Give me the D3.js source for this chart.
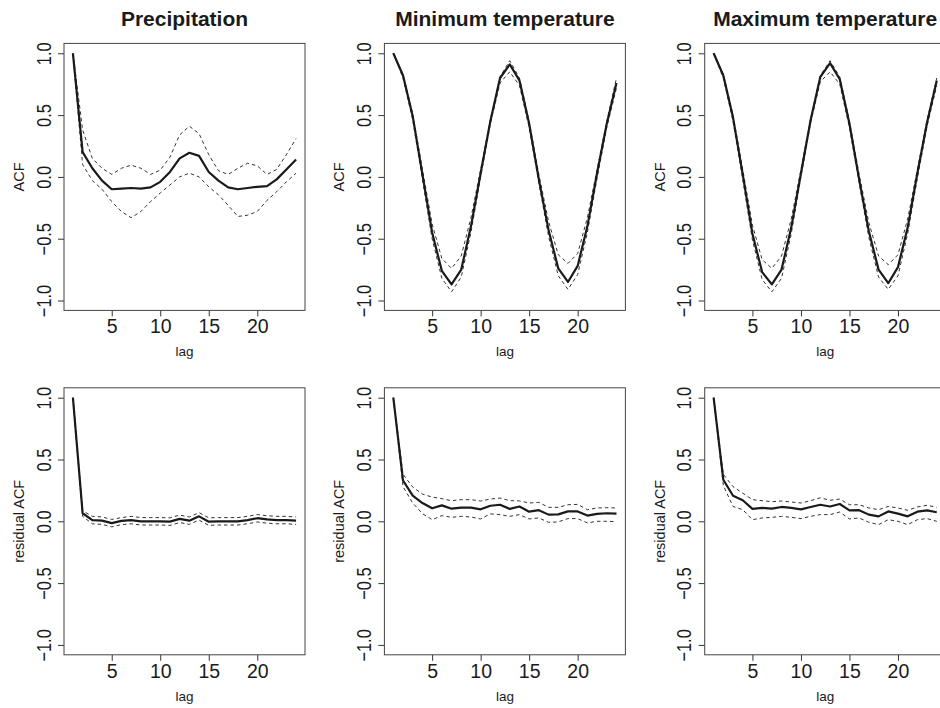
<!DOCTYPE html>
<html>
<head>
<meta charset="utf-8">
<script src="https://cdn.jsdelivr.net/npm/d3@7"></script>
<style>
  body { margin: 0; background: #fff; }
  svg { display: block; font-family: "Liberation Sans", Arial, Helvetica, sans-serif; }
</style>
</head>
<body>
<svg id="chart" width="940" height="708"></svg>
<script>
// ---------- data ----------
const lags = d3.range(1, 25);
const titles = ["Precipitation", "Minimum temperature", "Maximum temperature"];
const rowLabels = ["ACF", "residual ACF"];
const xTicks = [5, 10, 15, 20];
const yTicks = [-1.0, -0.5, 0.0, 0.5, 1.0];

// Top row: ACF
const precipAcf   = [1.00, 0.20, 0.07, -0.03, -0.10, -0.095, -0.09, -0.095, -0.085, -0.04, 0.04, 0.15, 0.195, 0.17, 0.04, -0.03, -0.085, -0.10, -0.09, -0.08, -0.075, -0.02, 0.06, 0.14];
const precipAcfHi = [1.00, 0.38, 0.15, 0.07, 0.02, 0.07, 0.095, 0.07, 0.02, 0.055, 0.16, 0.34, 0.41, 0.35, 0.18, 0.05, 0.02, 0.07, 0.11, 0.09, 0.02, 0.06, 0.18, 0.31];
const precipAcfLo = [1.00, 0.10, -0.03, -0.10, -0.20, -0.28, -0.33, -0.28, -0.20, -0.13, -0.065, 0.00, 0.03, 0.00, -0.08, -0.145, -0.23, -0.32, -0.31, -0.28, -0.19, -0.12, -0.04, 0.03];

const minAcf   = [1.00, 0.82, 0.49, 0.02, -0.45, -0.76, -0.87, -0.75, -0.40, 0.03, 0.45, 0.80, 0.91, 0.78, 0.43, -0.02, -0.43, -0.74, -0.85, -0.72, -0.40, 0.03, 0.43, 0.76];
const minAcfHi = [1.00, 0.83, 0.51, 0.06, -0.38, -0.66, -0.74, -0.64, -0.33, 0.06, 0.46, 0.81, 0.94, 0.80, 0.45, 0.02, -0.36, -0.63, -0.70, -0.62, -0.33, 0.06, 0.45, 0.80];
const minAcfLo = [1.00, 0.80, 0.46, -0.02, -0.50, -0.82, -0.93, -0.81, -0.45, 0.00, 0.43, 0.76, 0.85, 0.74, 0.40, -0.05, -0.48, -0.80, -0.91, -0.79, -0.45, -0.01, 0.40, 0.72];

const maxAcf   = [1.00, 0.82, 0.48, 0.02, -0.46, -0.77, -0.87, -0.75, -0.41, 0.03, 0.46, 0.81, 0.92, 0.79, 0.43, -0.02, -0.44, -0.75, -0.86, -0.73, -0.41, 0.03, 0.44, 0.78];
const maxAcfHi = [1.00, 0.83, 0.50, 0.06, -0.39, -0.67, -0.74, -0.64, -0.34, 0.06, 0.47, 0.82, 0.94, 0.81, 0.45, 0.02, -0.37, -0.64, -0.71, -0.63, -0.34, 0.06, 0.46, 0.80];
const maxAcfLo = [1.00, 0.80, 0.45, -0.02, -0.51, -0.83, -0.93, -0.82, -0.46, 0.00, 0.44, 0.77, 0.85, 0.75, 0.40, -0.05, -0.49, -0.81, -0.91, -0.80, -0.46, -0.01, 0.41, 0.74];

// Bottom row: residual ACF
const precipRes   = [1.00, 0.065, 0.01, 0.005, -0.015, 0.003, 0.01, 0.0, 0.0, 0.0, -0.003, 0.02, 0.005, 0.04, -0.003, 0.0, 0.0, 0.0, 0.01, 0.025, 0.015, 0.01, 0.01, 0.005];
const precipResHi = [1.00, 0.085, 0.04, 0.035, 0.015, 0.03, 0.04, 0.03, 0.03, 0.03, 0.028, 0.05, 0.035, 0.07, 0.028, 0.03, 0.03, 0.03, 0.04, 0.055, 0.045, 0.04, 0.04, 0.035];
const precipResLo = [1.00, 0.04, -0.02, -0.025, -0.045, -0.027, -0.02, -0.03, -0.03, -0.03, -0.033, -0.01, -0.025, 0.01, -0.033, -0.03, -0.03, -0.03, -0.02, -0.005, -0.015, -0.02, -0.02, -0.025];

const minRes   = [1.00, 0.33, 0.207, 0.148, 0.105, 0.129, 0.102, 0.11, 0.11, 0.097, 0.126, 0.134, 0.10, 0.12, 0.078, 0.09, 0.054, 0.056, 0.08, 0.08, 0.046, 0.06, 0.065, 0.062];
const minResHi = [1.00, 0.38, 0.277, 0.22, 0.196, 0.183, 0.167, 0.175, 0.175, 0.164, 0.18, 0.188, 0.167, 0.165, 0.148, 0.153, 0.113, 0.113, 0.134, 0.137, 0.094, 0.108, 0.11, 0.108];
const minResLo = [1.00, 0.28, 0.148, 0.062, 0.013, 0.046, 0.032, 0.04, 0.035, 0.019, 0.06, 0.054, 0.04, 0.054, 0.019, 0.027, -0.008, -0.005, 0.022, 0.022, -0.013, 0.0, 0.0, -0.003];

const maxRes   = [1.00, 0.336, 0.207, 0.17, 0.10, 0.108, 0.102, 0.116, 0.108, 0.097, 0.116, 0.134, 0.12, 0.14, 0.089, 0.09, 0.054, 0.04, 0.08, 0.062, 0.04, 0.078, 0.089, 0.073];
const maxResHi = [1.00, 0.38, 0.28, 0.228, 0.175, 0.167, 0.159, 0.164, 0.156, 0.148, 0.167, 0.19, 0.17, 0.18, 0.134, 0.134, 0.108, 0.094, 0.12, 0.108, 0.089, 0.116, 0.13, 0.113];
const maxResLo = [1.00, 0.29, 0.12, 0.094, 0.013, 0.027, 0.032, 0.04, 0.032, 0.022, 0.04, 0.054, 0.054, 0.075, 0.019, 0.027, -0.008, -0.027, 0.013, 0.0, -0.027, 0.013, 0.022, 0.0];

const panels = [
  [ {est: precipAcf, hi: precipAcfHi, lo: precipAcfLo},
    {est: minAcf, hi: minAcfHi, lo: minAcfLo},
    {est: maxAcf, hi: maxAcfHi, lo: maxAcfLo} ],
  [ {est: precipRes, hi: precipResHi, lo: precipResLo},
    {est: minRes, hi: minResHi, lo: minResLo},
    {est: maxRes, hi: maxResHi, lo: maxResLo} ]
];

// ---------- layout ----------
const svg = d3.select("#chart");
const W = 241, H = 267;
const lefts = [64, 384.4, 704.7];
const tops = [43.4, 387.8];
const ink = "#1a1a1a";

panels.forEach((row, r) => {
  row.forEach((p, c) => {
    const x0 = lefts[c], y0 = tops[r];
    const x = d3.scaleLinear().domain([0.08, 24.92]).range([0, W]);
    const y = d3.scaleLinear().domain([-1.08, 1.08]).range([H, 0]);
    const g = svg.append("g").attr("transform", `translate(${x0},${y0})`);

    const clipId = `clip-${r}-${c}`;
    g.append("clipPath").attr("id", clipId)
      .append("rect").attr("width", W).attr("height", H);

    // x axis
    const xa = g.append("g").attr("transform", `translate(0,${H})`)
      .call(d3.axisBottom(x).tickValues(xTicks).tickSize(6).tickPadding(3).tickFormat(d3.format("d")));
    xa.select(".domain").remove();
    xa.selectAll("line").attr("stroke", "#333");
    xa.selectAll("text").attr("font-size", 19.5).attr("fill", ink);

    // y axis
    const ya = g.append("g")
      .call(d3.axisLeft(y).tickValues(yTicks).tickSize(6).tickFormat(d => d3.format(".1f")(d).replace("-", "\u2212")));
    ya.select(".domain").remove();
    ya.selectAll("line").attr("stroke", "#333");
    ya.selectAll("text")
      .attr("font-size", 20.5)
      .attr("fill", ink)
      .attr("text-anchor", "middle")
      .attr("dy", 0)
      .attr("x", null)
      .attr("transform", "translate(-13.5,0) rotate(-90) scale(0.8,1)");

    // box
    g.append("rect").attr("width", W).attr("height", H)
      .attr("fill", "none").attr("stroke", "#444").attr("stroke-width", 1);

    const line = d3.line().x((d, i) => x(lags[i])).y(d => y(d));
    const plot = g.append("g").attr("clip-path", `url(#${clipId})`);
    [p.hi, p.lo].forEach(arr => {
      plot.append("path").datum(arr).attr("d", line)
        .attr("fill", "none").attr("stroke", "#333").attr("stroke-width", 1)
        .attr("stroke-dasharray", "3.5,3");
    });
    plot.append("path").datum(p.est).attr("d", line)
      .attr("fill", "none").attr("stroke", ink).attr("stroke-width", 2.2)
      .attr("stroke-linejoin", "round");

    // axis labels
    g.append("text").attr("x", W / 2).attr("y", H + 46)
      .attr("text-anchor", "middle").attr("font-size", 13.5).attr("fill", ink).text("lag");
    g.append("text")
      .attr("transform", `translate(-40,${H / 2}) rotate(-90)`)
      .attr("text-anchor", "middle").attr("font-size", 14.5).attr("fill", ink)
      .text(rowLabels[r]);

    if (r === 0) {
      g.append("text").attr("x", W / 2).attr("y", -17.5)
        .attr("text-anchor", "middle").attr("font-size", 21).attr("font-weight", "bold")
        .attr("fill", ink).text(titles[c]);
    }
  });
});
</script>
</body>
</html>
